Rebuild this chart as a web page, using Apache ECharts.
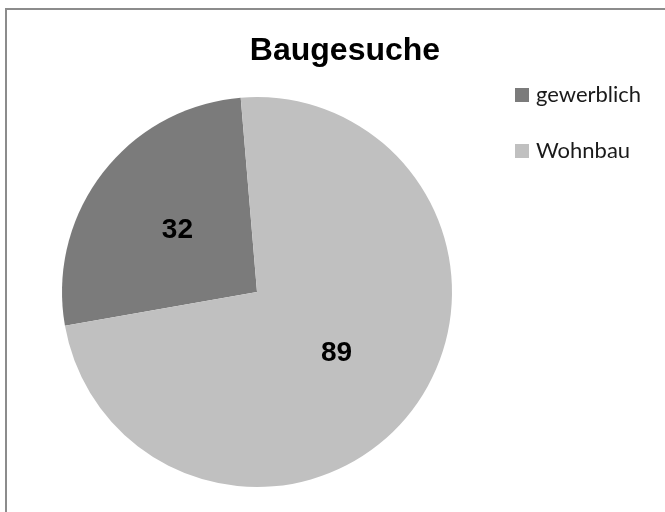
<!DOCTYPE html>
<html>
<head>
<meta charset="utf-8">
<script src="https://cdn.jsdelivr.net/npm/echarts@6/dist/echarts.min.js"></script>
<style>
  html, body { margin: 0; padding: 0; background: #fff; }
  #chart { width: 665px; height: 512px; }
</style>
</head>
<body>
<div id="chart"></div>
<script>
const categories = ['gewerblich', 'Wohnbau'];
const values = [32, 89];
const colors = ['#7b7b7b', '#c0c0c0'];

const chart = echarts.init(document.getElementById('chart'));
chart.setOption({
    animation: false,
    backgroundColor: '#fff',
    graphic: [{
        type: 'rect',
        shape: { x: 6, y: 9, width: 670, height: 520 },
        style: { fill: 'none', stroke: '#8c8c8c', lineWidth: 2 },
        silent: true
    }],
    title: {
        text: 'Baugesuche',
        left: 340,
        top: 30,
        textAlign: 'center',
        textStyle: {
            fontFamily: 'Liberation Sans',
            fontSize: 32,
            fontWeight: 'bold',
            color: '#000'
        }
    },
    legend: {
        orient: 'vertical',
        left: 515,
        top: 84,
        padding: 0,
        itemWidth: 14,
        itemHeight: 14,
        itemGap: 34,
        icon: 'rect',
        data: categories,
        textStyle: {
            fontFamily: 'Lato',
            fontSize: 22,
            lineHeight: 22,
            color: '#1a1a1a',
            padding: [0, 0, 0, 2]
        }
    },
    series: [{
        type: 'pie',
        center: [257, 292],
        radius: [0, 195],
        startAngle: 190,
        clockwise: true,
        label: {
            show: true,
            position: 'inside',
            formatter: '{c}',
            fontFamily: 'Liberation Sans',
            fontSize: 28,
            fontWeight: 'bold',
            color: '#000'
        },
        labelLine: { show: false },
        itemStyle: { borderWidth: 0 },
        emphasis: { disabled: true },
        data: categories.map((name, i) => ({
            name,
            value: values[i],
            itemStyle: { color: colors[i] }
        }))
    }]
});
</script>
</body>
</html>
